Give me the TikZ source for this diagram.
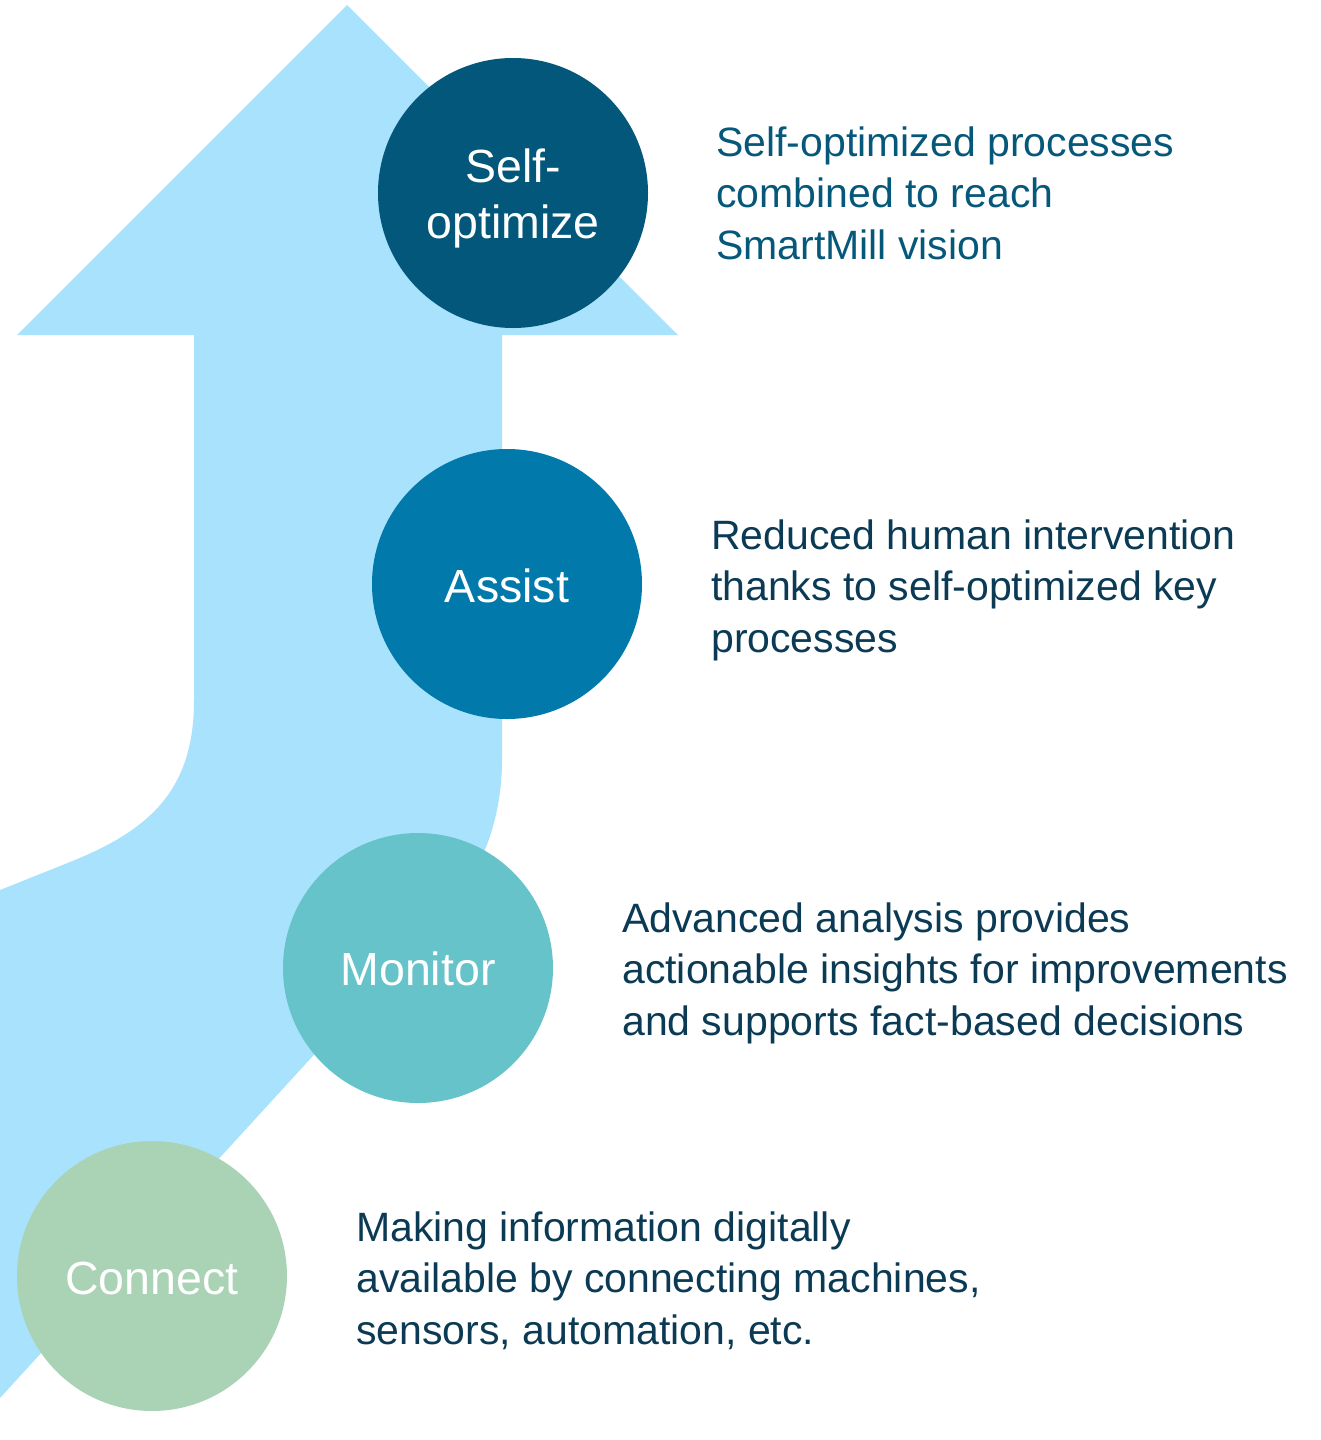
\documentclass[tikz,border=0pt]{standalone}
\usepackage{fontspec}
\setmainfont{Liberation Sans}
\definecolor{arrowblue}{HTML}{A9E2FD}
\definecolor{cSelf}{HTML}{02577A}
\definecolor{cAssist}{HTML}{0179AB}
\definecolor{cMonitor}{HTML}{66C3C9}
\definecolor{cConnect}{HTML}{AAD2B5}
\definecolor{tSelf}{HTML}{06587A}
\definecolor{tDark}{HTML}{0B3A55}
\begin{document}
\begin{tikzpicture}[x=1pt,y=-1pt,
  stage/.style={circle,minimum size=270pt,inner sep=0pt},
  clab/.style={anchor=base,inner sep=0pt,text=white,font=\fontsize{46.5}{54}\selectfont},
  descline/.style={anchor=base west,inner sep=0pt,font=\fontsize{41}{51}\selectfont}]
\useasboundingbox (0,0) rectangle (1320,1440);
% big arrow
\fill[arrowblue] (0,890) -- (70,862) .. controls (150,830) and (194,790) .. (194,700)
  -- (194,335) -- (17,335) -- (347,5) -- (678,335) -- (502,335) -- (502,760)
  .. controls (502,820) and (481,872) .. (451,905) -- (0,1398) -- cycle;
% circles
\node[stage,fill=cSelf] (self) at (513,193) {};
\node[stage,fill=cAssist] (assist) at (507,584) {};
\node[stage,fill=cMonitor] (monitor) at (418,968) {};
\node[stage,fill=cConnect] (connect) at (152,1276) {};
% circle labels
\node[clab] (selfa) at (513,182) {Self-};
\node[clab] (selfb) at (513,238) {optimize};
\node[clab] (assistl) at (507,602) {Assist};
\node[clab] (monitorl) at (418,985) {Monitor};
\node[clab] (connectl) at (152,1294) {Connect};
% descriptions
\node[descline,text=tSelf] (d1a) at (716,156) {Self-optimized processes};
\node[descline,text=tSelf] (d1b) at (716,207.5) {combined to reach};
\node[descline,text=tSelf] (d1c) at (716,259) {SmartMill vision};
\node[descline,text=tDark] (d2a) at (711,549) {Reduced human intervention};
\node[descline,text=tDark] (d2b) at (711,600.5) {thanks to self-optimized key};
\node[descline,text=tDark] (d2c) at (711,652) {processes};
\node[descline,text=tDark] (d3a) at (622,932) {Advanced analysis provides};
\node[descline,text=tDark] (d3b) at (622,983.5) {actionable insights for improvements};
\node[descline,text=tDark] (d3c) at (622,1035) {and supports fact-based decisions};
\node[descline,text=tDark] (d4a) at (356,1241) {Making information digitally};
\node[descline,text=tDark] (d4b) at (356,1292.5) {available by connecting machines,};
\node[descline,text=tDark] (d4c) at (356,1344) {sensors, automation, etc.};
\end{tikzpicture}
\end{document}
